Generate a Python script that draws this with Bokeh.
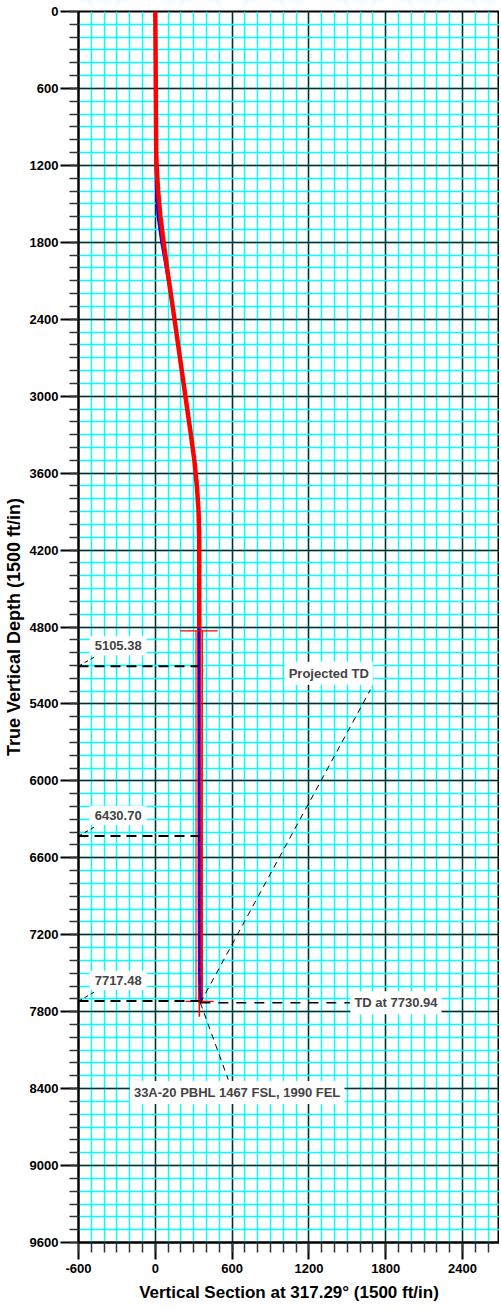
from bokeh.plotting import figure
from bokeh.models import Range1d, SingleIntervalTicker, Label
from bokeh.embed import file_html
from bokeh.resources import INLINE

# ---------------- data ----------------
# actual well path (red): vertical section (ft) vs true vertical depth (ft)
red_vs = [0, 2, 4, 7, 10, 22, 40, 65, 92, 150, 235, 278, 305, 325, 338, 343, 343, 344, 346, 348, 350, 352]
red_tvd = [0, 300, 600, 1100, 1200, 1400, 1600, 1800, 2000, 2400, 3000, 3300, 3500, 3700, 3900, 4100, 4500, 5000, 6000, 7000, 7500, 7731]
# survey path (blue)
blue_vs = [0, 2, 3, 3, 4, 7, 20, 48, 84, 150, 235, 278, 305, 325, 338, 343, 341, 341, 343, 344, 354]
blue_tvd = [0, 300, 600, 1100, 1200, 1400, 1600, 1800, 2000, 2400, 3000, 3300, 3500, 3700, 3900, 4100, 4800, 5500, 6500, 7500, 7731]
blue_split = 16  # index from which blue is drawn on top of red

# target markers (red crosses) and target outline
cross_vs0 = [195, 236]
cross_vs1 = [487, 456]
cross_tvd = [4830, 7720]
tgt_vs = [318, 368]
tgt_top = 4830
tgt_bot = 7720
tail_vs = 344
tail_tvd = [7700, 7840]

# annotated depths
marker_tvd = [5105.38, 6430.70, 7717.48]
marker_text = ["5105.38", "6430.70", "7717.48"]
td_tvd = 7730.94
td_vs = 352

x_ticks_labels = {-600: "-600"}

# ---------------- figure ----------------
FONT = "Liberation Sans"
p = figure(frame_width=421, frame_height=1231,
           x_range=Range1d(-600, 2689), y_range=Range1d(9600, 0),
           output_backend="svg", toolbar_location=None,
           min_border_left=76, min_border_right=0, min_border_top=11, min_border_bottom=58)
p.background_fill_color = "white"
p.outline_line_color = "black"
p.outline_line_width = 2

for ax in (p.xaxis[0], p.yaxis[0]):
    ax.ticker = SingleIntervalTicker(interval=600, num_minor_ticks=6)
    ax.axis_line_width = 2
    ax.axis_line_color = "black"
    ax.major_tick_line_width = 2
    ax.major_tick_line_color = "black"
    ax.minor_tick_line_color = "#333333"
    ax.minor_tick_line_width = 1.5
    ax.major_tick_in = 0
    ax.minor_tick_in = 0
    ax.major_label_text_font = FONT
    ax.major_label_text_font_style = "bold"
    ax.major_label_text_font_size = "13px"
    ax.major_label_text_color = "black"
    ax.axis_label_text_font = FONT
    ax.axis_label_text_font_style = "bold"
    ax.axis_label_text_color = "black"

p.yaxis.major_tick_out = 18
p.yaxis.minor_tick_out = 9
p.yaxis.major_label_standoff = 2
p.yaxis.axis_label_standoff = 3
p.yaxis.axis_label_text_font_size = "18px"
p.yaxis.axis_label = "True Vertical Depth (1500 ft/in)"

p.xaxis.major_tick_out = 17
p.xaxis.minor_tick_out = 10
p.xaxis.major_label_standoff = 4
p.xaxis.axis_label_standoff = 7
p.xaxis.axis_label_text_font_size = "17px"
p.xaxis.axis_label = "Vertical Section at 317.29° (1500 ft/in)"
p.xaxis.major_label_overrides = x_ticks_labels

for g in (p.xgrid[0], p.ygrid[0]):
    g.grid_line_color = "#111111"
    g.grid_line_width = 1.5
    g.grid_line_alpha = 0.9
    g.minor_grid_line_color = "#00ffff"
    g.minor_grid_line_width = 1.4

# ---------------- well paths ----------------
p.line(blue_vs[:blue_split + 1], blue_tvd[:blue_split + 1], line_color="blue", line_width=2.5)
p.line(red_vs, red_tvd, line_color="red", line_width=4.5)
p.segment(x0=tgt_vs, y0=[tgt_top] * len(tgt_vs), x1=tgt_vs, y1=[tgt_bot] * len(tgt_vs),
          line_color="red", line_width=1)
p.line(blue_vs[blue_split:], blue_tvd[blue_split:], line_color="blue", line_width=2)
p.segment(x0=cross_vs0, y0=cross_tvd, x1=cross_vs1, y1=cross_tvd, line_color="red", line_width=1.2)
p.segment(x0=[tail_vs], y0=[tail_tvd[0]], x1=[tail_vs], y1=[tail_tvd[1]], line_color="red", line_width=1.5)

# ---------------- annotations ----------------
p.segment(x0=[-600] * len(marker_tvd), y0=marker_tvd, x1=[td_vs - 8] * len(marker_tvd), y1=marker_tvd,
          line_color="black", line_width=2, line_dash="10 6")
p.segment(x0=[-600] * len(marker_tvd), y0=marker_tvd,
          x1=[-460] * len(marker_tvd), y1=[t - 80 for t in marker_tvd],
          line_color="black", line_width=1, line_dash="4 3")
for t, s in zip(marker_tvd, marker_text):
    p.add_layout(Label(x=-290, y=t - 160, text=s, text_align="center", text_baseline="middle",
                       text_font=FONT, text_font_style="bold", text_font_size="13px",
                       background_fill_color="white", padding=5))

p.segment(x0=[td_vs], y0=[td_tvd], x1=[1520], y1=[td_tvd], line_color="black", line_width=1.5, line_dash="10 8")
p.add_layout(Label(x=1880, y=td_tvd, text="TD at 7730.94", text_align="center", text_baseline="middle",
                   text_font=FONT, text_font_style="bold", text_font_size="13px",
                   background_fill_color="white", padding=4))

p.segment(x0=[td_vs], y0=[td_tvd], x1=[1680], y1=[5290], line_color="black", line_width=1, line_dash="6 5")
p.add_layout(Label(x=1355, y=5160, text="Projected TD", text_align="center", text_baseline="middle",
                   text_font=FONT, text_font_style="bold", text_font_size="13px",
                   background_fill_color="white", padding=4))

p.segment(x0=[td_vs], y0=[td_tvd], x1=[570], y1=[8330], line_color="black", line_width=1, line_dash="6 5")
p.add_layout(Label(x=640, y=8430, text="33A-20 PBHL 1467 FSL, 1990 FEL", text_align="center",
                   text_baseline="middle", text_font=FONT, text_font_style="bold", text_font_size="13px",
                   background_fill_color="white", padding=4))

open("out.html", "w").write(file_html(p, INLINE))
